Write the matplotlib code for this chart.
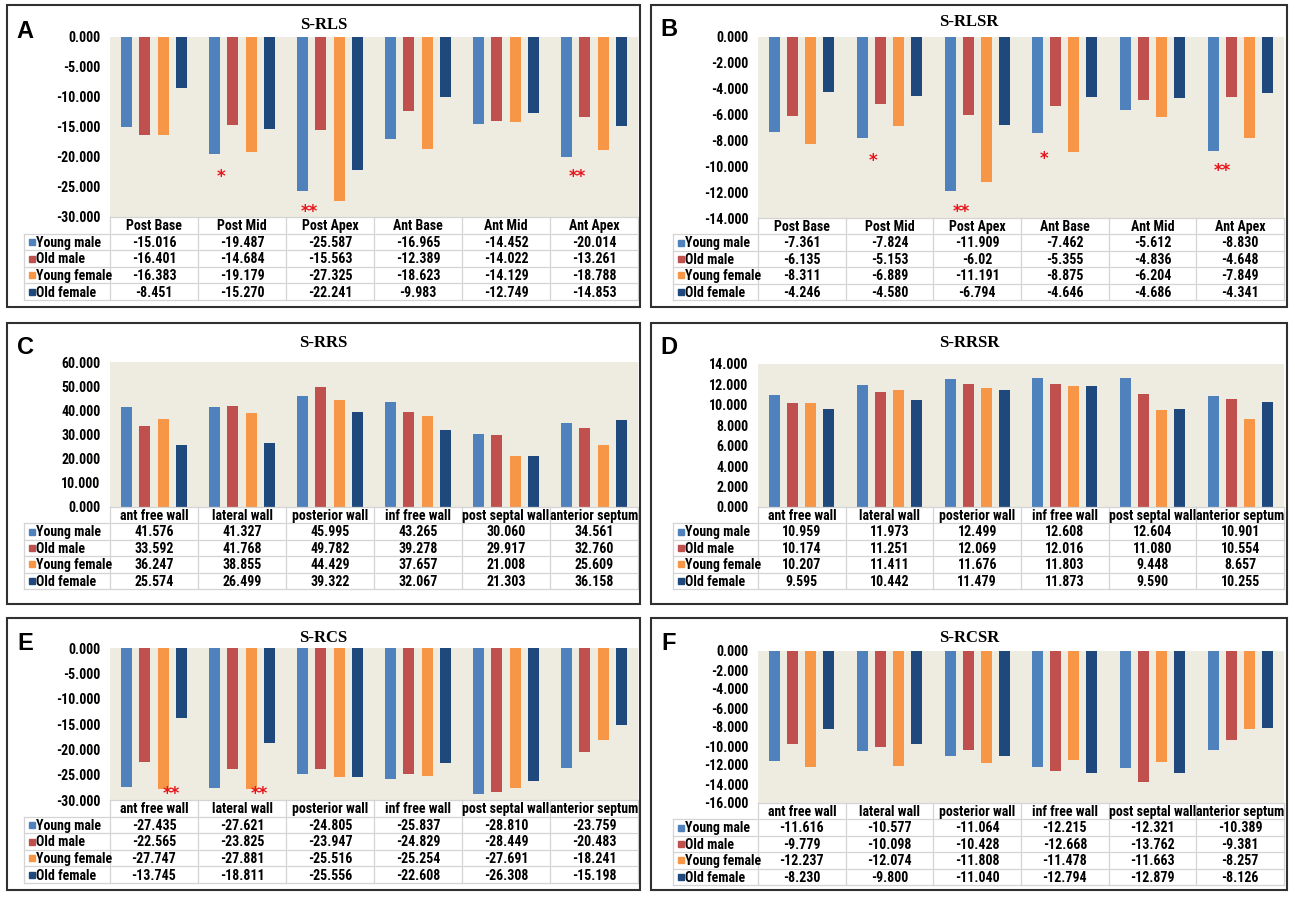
import matplotlib
matplotlib.use("Agg")
import matplotlib.pyplot as plt
from matplotlib.patches import Rectangle
import numpy as np

plt.rcParams["axes.unicode_minus"] = False

W, H = 1295, 898
NARROW = ["Liberation Sans Narrow", "Arial Narrow", "Roboto Condensed", "Fira Sans Condensed",
          "Liberation Sans", "DejaVu Sans"]

series_names = ["Young male", "Old male", "Young female", "Old female"]
series_colors = ["#4f81bd", "#c0504d", "#f79646", "#1f497d"]

lv_segments = ["Post Base", "Post Mid", "Post Apex", "Ant Base", "Ant Mid", "Ant Apex"]
rv_segments = ["ant free wall", "lateral wall", "posterior wall",
               "inf free wall", "post septal wall", "anterior septum"]

# values kept as printed in the data tables
rls_young_male = ["-15.016", "-19.487", "-25.587", "-16.965", "-14.452", "-20.014"]
rls_old_male = ["-16.401", "-14.684", "-15.563", "-12.389", "-14.022", "-13.261"]
rls_young_female = ["-16.383", "-19.179", "-27.325", "-18.623", "-14.129", "-18.788"]
rls_old_female = ["-8.451", "-15.270", "-22.241", "-9.983", "-12.749", "-14.853"]

rlsr_young_male = ["-7.361", "-7.824", "-11.909", "-7.462", "-5.612", "-8.830"]
rlsr_old_male = ["-6.135", "-5.153", "-6.02", "-5.355", "-4.836", "-4.648"]
rlsr_young_female = ["-8.311", "-6.889", "-11.191", "-8.875", "-6.204", "-7.849"]
rlsr_old_female = ["-4.246", "-4.580", "-6.794", "-4.646", "-4.686", "-4.341"]

rrs_young_male = ["41.576", "41.327", "45.995", "43.265", "30.060", "34.561"]
rrs_old_male = ["33.592", "41.768", "49.782", "39.278", "29.917", "32.760"]
rrs_young_female = ["36.247", "38.855", "44.429", "37.657", "21.008", "25.609"]
rrs_old_female = ["25.574", "26.499", "39.322", "32.067", "21.303", "36.158"]

rrsr_young_male = ["10.959", "11.973", "12.499", "12.608", "12.604", "10.901"]
rrsr_old_male = ["10.174", "11.251", "12.069", "12.016", "11.080", "10.554"]
rrsr_young_female = ["10.207", "11.411", "11.676", "11.803", "9.448", "8.657"]
rrsr_old_female = ["9.595", "10.442", "11.479", "11.873", "9.590", "10.255"]

rcs_young_male = ["-27.435", "-27.621", "-24.805", "-25.837", "-28.810", "-23.759"]
rcs_old_male = ["-22.565", "-23.825", "-23.947", "-24.829", "-28.449", "-20.483"]
rcs_young_female = ["-27.747", "-27.881", "-25.516", "-25.254", "-27.691", "-18.241"]
rcs_old_female = ["-13.745", "-18.811", "-25.556", "-22.608", "-26.308", "-15.198"]

rcsr_young_male = ["-11.616", "-10.577", "-11.064", "-12.215", "-12.321", "-10.389"]
rcsr_old_male = ["-9.779", "-10.098", "-10.428", "-12.668", "-13.762", "-9.381"]
rcsr_young_female = ["-12.237", "-12.074", "-11.808", "-11.478", "-11.663", "-8.257"]
rcsr_old_female = ["-8.230", "-9.800", "-11.040", "-12.794", "-12.879", "-8.126"]

# significance marks: (category, offset, y, text)
rls_marks = [(1, -0.24, -23.4, "*"), (2, -0.23, -29.2, "**"), (5, -0.19, -23.4, "**")]
rlsr_marks = [(1, -0.19, -9.6, "*"), (2, -0.18, -13.5, "**"),
              (3, -0.24, -9.45, "*"), (5, -0.2, -10.4, "**")]
rcs_marks = [(0, 0.2, -28.9, "**"), (1, 0.2, -28.9, "**")]

panels = [
    dict(letter="A", title="S-RLS", cats=lv_segments,
         data=[rls_young_male, rls_old_male, rls_young_female, rls_old_female],
         ylim=(-30, 0), step=5, marks=rls_marks,
         box=(7, 5, 640, 307), plot=(110, 37, 638, 217), table=(24, 300), title_y=25, letter_y=31),
    dict(letter="B", title="S-RLSR", cats=lv_segments,
         data=[rlsr_young_male, rlsr_old_male, rlsr_young_female, rlsr_old_female],
         ylim=(-14, 0), step=2, marks=rlsr_marks,
         box=(651, 5, 1287, 307), plot=(758, 37, 1284, 218), table=(673, 300), title_y=22, letter_y=29),
    dict(letter="C", title="S-RRS", cats=rv_segments,
         data=[rrs_young_male, rrs_old_male, rrs_young_female, rrs_old_female],
         ylim=(0, 60), step=10, marks=[],
         box=(7, 323, 640, 604), plot=(110, 362, 638, 507), table=(24, 589), title_y=343, letter_y=347),
    dict(letter="D", title="S-RRSR", cats=rv_segments,
         data=[rrsr_young_male, rrsr_old_male, rrsr_young_female, rrsr_old_female],
         ylim=(0, 14), step=2, marks=[],
         box=(651, 323, 1287, 604), plot=(758, 364, 1284, 507), table=(673, 589), title_y=343, letter_y=347),
    dict(letter="E", title="S-RCS", cats=rv_segments,
         data=[rcs_young_male, rcs_old_male, rcs_young_female, rcs_old_female],
         ylim=(-30, 0), step=5, marks=rcs_marks,
         box=(7, 618, 640, 890), plot=(110, 648, 638, 800), table=(24, 883), title_y=638, letter_y=644),
    dict(letter="F", title="S-RCSR", cats=rv_segments,
         data=[rcsr_young_male, rcsr_old_male, rcsr_young_female, rcsr_old_female],
         ylim=(-16, 0), step=2, marks=[],
         box=(651, 618, 1287, 890), plot=(758, 651, 1284, 803), table=(673, 885), title_y=638, letter_y=643),
]


def rect(x0, y0, x1, y1):
    """pixel box (top-left origin) -> figure fraction rect"""
    return [x0 / W, 1 - y1 / H, (x1 - x0) / W, (y1 - y0) / H]


def draw_panel(fig, p):
    bx0, by0, bx1, by1 = p["box"]
    px0, py0, px1, py1 = p["plot"]
    tx0, ty1 = p["table"]
    n = len(p["cats"])
    x = np.arange(n)

    # frame around the whole chart
    fig.add_artist(Rectangle((bx0 / W, 1 - by1 / H), (bx1 - bx0) / W, (by1 - by0) / H,
                             transform=fig.transFigure, fill=False, edgecolor="#303030", lw=1.5))
    fig.text(bx0 / W + 18 / W, 1 - p["letter_y"] / H, p["letter"], fontsize=17, fontweight="bold",
             family=["Liberation Sans", "DejaVu Sans"], va="center", ha="center")
    fig.text(((bx0 + bx1) / 2) / W, 1 - p["title_y"] / H, p["title"], fontsize=12,
             fontweight="bold", family=["Liberation Serif", "DejaVu Serif"], va="center", ha="center")

    # bars
    ax = fig.add_axes(rect(px0, py0, px1, py1))
    ax.set_facecolor("#eeece1")
    pitch, width = 0.205, 0.125
    for k, vals in enumerate(p["data"]):
        v = np.array(vals, dtype=float)
        ax.bar(x + (k - 1.5) * pitch, v, width=width, color=series_colors[k], zorder=2)
    for ci, off, yv, txt in p["marks"]:
        ax.text(ci + off, yv, txt, color="#e8141b", fontsize=12, fontweight="bold",
                ha="center", va="center", zorder=3, clip_on=False)
    ax.set_xlim(-0.5, n - 0.5)
    lo, hi = p["ylim"]
    ax.set_ylim(lo, hi)
    ticks = np.arange(lo, hi + p["step"] / 2, p["step"])
    ax.set_yticks(ticks)
    ax.set_yticklabels([f"{t:.3f}" for t in ticks], fontsize=10, fontweight="bold", family=NARROW)
    ax.set_xticks([])
    ax.tick_params(axis="y", length=0, pad=7)
    for s in ax.spines.values():
        s.set_visible(False)

    # data table below the plot
    cat_w = (px1 - px0) / n
    lw = (px0 - tx0) / cat_w
    tax = fig.add_axes(rect(tx0, py1, px1, ty1))
    tax.set_xlim(-0.5 - lw, n - 0.5)
    tax.set_ylim(5, 0)
    tax.axis("off")
    gc = "#d4d4d4"
    tax.plot([-0.5, n - 0.5], [0, 0], color=gc, lw=0.9, clip_on=False)
    for r in range(1, 6):
        tax.plot([-0.5 - lw, n - 0.5], [r, r], color=gc, lw=0.9, clip_on=False)
    for c in range(n + 1):
        tax.plot([c - 0.5, c - 0.5], [0, 5], color=gc, lw=0.9, clip_on=False)
    tax.plot([-0.5 - lw, -0.5 - lw], [1, 5], color=gc, lw=0.9, clip_on=False)

    tk = dict(fontsize=10, fontweight="bold", family=NARROW, va="center")
    for i, c in enumerate(p["cats"]):
        tax.text(i, 0.55, c, ha="center", **tk)
    for k, vals in enumerate(p["data"]):
        tax.plot(-0.5 - lw + 0.09, k + 1.5, marker="s", ms=5, color=series_colors[k],
                 clip_on=False, lw=0)
        tax.text(-0.5 - lw + 0.14, k + 1.55, series_names[k], ha="left", **tk)
        for i, s in enumerate(vals):
            tax.text(i, k + 1.55, s, ha="center", **tk)


fig = plt.figure(figsize=(W / 100, H / 100), dpi=100)
for p in panels:
    draw_panel(fig, p)

fig.savefig("out.png", dpi=100, facecolor="white")
